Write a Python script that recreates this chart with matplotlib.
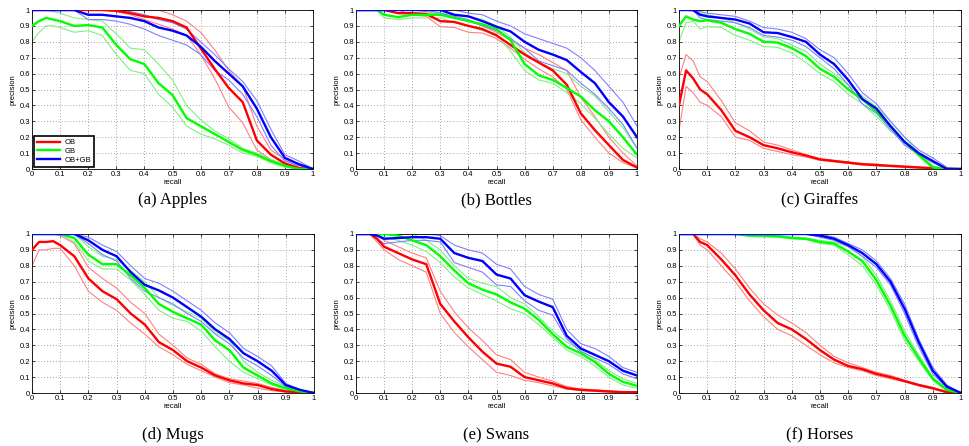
import matplotlib
matplotlib.use("Agg")
import matplotlib.pyplot as plt

# ---------------- data ----------------
RECALL = [0, 0.025, 0.05, 0.075, 0.1, 0.15, 0.2, 0.25, 0.3, 0.35, 0.4, 0.45,
          0.5, 0.55, 0.6, 0.65, 0.7, 0.75, 0.8, 0.85, 0.9, 0.95, 1.0]
SERIES = ["OB", "GB", "OB+GB"]
TITLES = ["(a) Apples", "(b) Bottles", "(c) Giraffes",
          "(d) Mugs", "(e) Swans", "(f) Horses"]
TICKS = [0, 0.1, 0.2, 0.3, 0.4, 0.5, 0.6, 0.7, 0.8, 0.9, 1]
TICK_LABELS = ["0", "0.1", "0.2", "0.3", "0.4", "0.5", "0.6", "0.7", "0.8", "0.9", "1"]

# Apples
apples_ob    = [1,1,1,1,1,1,1,1,0.995,0.98,0.96,0.95,0.93,0.89,0.76,0.63,0.51,0.42,0.18,0.09,0.035,0.005,0]
apples_ob_hi = [1,1,1,1,1,1,1,1,1,1,1,1,0.97,0.93,0.86,0.75,0.62,0.52,0.27,0.12,0.06,0.01,0]
apples_ob_lo = [1,1,1,1,1,1,1,1,0.99,0.97,0.94,0.91,0.88,0.84,0.72,0.57,0.39,0.29,0.12,0.06,0.02,0,0]
apples_gb    = [0.9,0.93,0.95,0.94,0.93,0.9,0.905,0.89,0.78,0.69,0.66,0.54,0.465,0.32,0.27,0.22,0.17,0.12,0.09,0.05,0.02,0,0]
apples_gb_hi = [1,1,1,0.99,0.98,0.95,0.94,0.93,0.85,0.76,0.75,0.66,0.56,0.4,0.31,0.24,0.19,0.13,0.1,0.06,0.03,0,0]
apples_gb_lo = [0.8,0.86,0.9,0.9,0.89,0.86,0.87,0.84,0.72,0.62,0.6,0.47,0.39,0.27,0.22,0.19,0.15,0.1,0.08,0.04,0.01,0,0]
apples_all    = [1,1,1,1,1,1,0.97,0.97,0.96,0.95,0.93,0.89,0.87,0.84,0.77,0.68,0.6,0.52,0.38,0.2,0.07,0.03,0]
apples_all_hi = [1,1,1,1,1,1,1,1,1,0.99,0.97,0.94,0.92,0.88,0.8,0.72,0.63,0.55,0.43,0.25,0.09,0.05,0]
apples_all_lo = [1,1,1,1,1,1,0.94,0.94,0.93,0.91,0.88,0.84,0.81,0.78,0.72,0.62,0.56,0.47,0.33,0.15,0.05,0.02,0]

# Bottles
bottles_ob    = [1,1,1,1,1,0.98,0.98,0.975,0.93,0.925,0.9,0.88,0.84,0.78,0.72,0.67,0.62,0.53,0.35,0.245,0.15,0.057,0.01]
bottles_ob_hi = [1,1,1,1,1,1,1,0.99,0.97,0.95,0.93,0.9,0.86,0.81,0.76,0.72,0.67,0.62,0.45,0.33,0.2,0.1,0.02]
bottles_ob_lo = [1,1,1,1,1,1,0.97,0.96,0.895,0.89,0.86,0.855,0.82,0.76,0.69,0.63,0.58,0.5,0.31,0.2,0.1,0.04,0.005]
bottles_gb    = [1,1,1,1,0.97,0.955,0.97,0.97,0.97,0.95,0.93,0.91,0.88,0.81,0.66,0.59,0.56,0.51,0.455,0.37,0.3,0.2,0.09]
bottles_gb_hi = [1,1,1,1,1,0.98,0.98,0.98,0.98,0.97,0.96,0.94,0.9,0.83,0.73,0.67,0.63,0.6,0.52,0.46,0.36,0.26,0.13]
bottles_gb_lo = [1,1,1,1,0.95,0.94,0.95,0.95,0.95,0.92,0.9,0.87,0.85,0.74,0.62,0.56,0.54,0.48,0.41,0.32,0.22,0.13,0.07]
bottles_all    = [1,1,1,1,1,1,1,1,1,0.97,0.96,0.93,0.895,0.865,0.8,0.75,0.72,0.685,0.61,0.54,0.42,0.33,0.2]
bottles_all_hi = [1,1,1,1,1,1,1,1,1,1,0.98,0.97,0.93,0.9,0.85,0.82,0.79,0.76,0.7,0.62,0.52,0.42,0.27]
bottles_all_lo = [1,1,1,1,1,1,1,1,0.98,0.96,0.94,0.9,0.87,0.82,0.76,0.68,0.65,0.62,0.54,0.47,0.38,0.28,0.13]

# Giraffes
giraffes_ob    = [0.4,0.62,0.57,0.5,0.47,0.37,0.24,0.2,0.15,0.13,0.105,0.085,0.06,0.05,0.04,0.03,0.025,0.02,0.015,0.01,0.005,0,0]
giraffes_ob_hi = [0.57,0.72,0.68,0.58,0.55,0.43,0.29,0.24,0.17,0.15,0.12,0.09,0.065,0.055,0.045,0.035,0.03,0.02,0.015,0.01,0.005,0,0]
giraffes_ob_lo = [0.24,0.52,0.48,0.42,0.4,0.33,0.2,0.18,0.13,0.11,0.09,0.075,0.055,0.045,0.035,0.025,0.02,0.015,0.01,0.005,0.002,0,0]
giraffes_gb    = [0.9,0.96,0.94,0.93,0.935,0.92,0.88,0.85,0.8,0.795,0.76,0.71,0.63,0.58,0.5,0.44,0.36,0.27,0.17,0.09,0.01,0,0]
giraffes_gb_hi = [1,1,0.99,0.98,0.97,0.95,0.92,0.88,0.83,0.82,0.78,0.74,0.66,0.6,0.53,0.46,0.39,0.3,0.2,0.1,0.02,0,0]
giraffes_gb_lo = [0.8,0.92,0.93,0.88,0.895,0.89,0.84,0.81,0.77,0.765,0.73,0.67,0.6,0.55,0.47,0.41,0.33,0.24,0.17,0.08,0.005,0,0]
giraffes_all    = [1,1,1,0.97,0.96,0.95,0.94,0.915,0.86,0.855,0.83,0.8,0.72,0.66,0.56,0.44,0.38,0.27,0.17,0.1,0.05,0,0]
giraffes_all_hi = [1,1,1,0.99,0.98,0.97,0.96,0.93,0.89,0.88,0.86,0.82,0.75,0.7,0.6,0.48,0.41,0.3,0.2,0.12,0.07,0.01,0]
giraffes_all_lo = [1,1,1,0.95,0.94,0.93,0.92,0.89,0.84,0.83,0.81,0.77,0.7,0.63,0.53,0.41,0.35,0.25,0.15,0.09,0.04,0,0]

# Mugs
mugs_ob    = [0.9,0.95,0.95,0.955,0.93,0.86,0.72,0.64,0.59,0.5,0.43,0.32,0.27,0.2,0.16,0.11,0.08,0.06,0.05,0.025,0.01,0.005,0]
mugs_ob_hi = [1,1,1,1,0.99,0.94,0.79,0.72,0.66,0.57,0.5,0.37,0.3,0.22,0.18,0.12,0.09,0.075,0.06,0.035,0.015,0.005,0]
mugs_ob_lo = [0.8,0.9,0.9,0.91,0.91,0.8,0.64,0.57,0.52,0.44,0.37,0.29,0.24,0.18,0.14,0.1,0.065,0.05,0.03,0.015,0.005,0,0]
mugs_gb    = [1,1,1,1,1,0.975,0.87,0.81,0.81,0.74,0.66,0.56,0.51,0.47,0.43,0.33,0.27,0.16,0.11,0.06,0.03,0.01,0]
mugs_gb_hi = [1,1,1,1,1,1,0.92,0.86,0.84,0.77,0.7,0.6,0.55,0.51,0.47,0.38,0.33,0.2,0.13,0.08,0.04,0.01,0]
mugs_gb_lo = [1,1,1,1,1,0.95,0.83,0.78,0.78,0.71,0.62,0.52,0.47,0.45,0.39,0.29,0.2,0.13,0.09,0.05,0.02,0.005,0]
mugs_all    = [1,1,1,1,1,1,0.96,0.9,0.86,0.76,0.68,0.645,0.6,0.54,0.48,0.4,0.34,0.25,0.2,0.14,0.05,0.02,0]
mugs_all_hi = [1,1,1,1,1,1,0.98,0.93,0.89,0.8,0.72,0.69,0.64,0.58,0.52,0.44,0.38,0.28,0.23,0.17,0.06,0.02,0]
mugs_all_lo = [1,1,1,1,1,1,0.94,0.87,0.83,0.72,0.64,0.6,0.56,0.5,0.45,0.37,0.31,0.22,0.17,0.11,0.04,0.01,0]

# Swans
swans_ob    = [1,1,1,0.97,0.92,0.88,0.84,0.81,0.56,0.45,0.35,0.26,0.185,0.165,0.1,0.08,0.06,0.03,0.02,0.015,0.01,0.005,0.005]
swans_ob_hi = [1,1,1,1,0.96,0.92,0.88,0.85,0.64,0.51,0.41,0.33,0.24,0.21,0.13,0.1,0.075,0.04,0.025,0.02,0.012,0.008,0.006]
swans_ob_lo = [1,1,1,0.95,0.9,0.84,0.8,0.76,0.5,0.38,0.29,0.21,0.13,0.11,0.08,0.065,0.045,0.025,0.015,0.01,0.005,0.003,0.002]
swans_gb    = [1,1,1,1,1,0.99,0.96,0.93,0.86,0.77,0.69,0.65,0.62,0.57,0.53,0.46,0.37,0.29,0.25,0.195,0.12,0.07,0.045]
swans_gb_hi = [1,1,1,1,1,1,1,0.96,0.9,0.8,0.72,0.69,0.67,0.6,0.56,0.48,0.39,0.32,0.27,0.21,0.14,0.09,0.06]
swans_gb_lo = [1,1,1,1,0.98,0.96,0.93,0.89,0.82,0.73,0.66,0.62,0.58,0.53,0.5,0.43,0.35,0.27,0.23,0.17,0.1,0.05,0.03]
swans_all    = [1,1,1,0.99,0.97,0.975,0.98,0.98,0.97,0.88,0.85,0.83,0.745,0.72,0.615,0.575,0.54,0.36,0.28,0.24,0.2,0.14,0.11]
swans_all_hi = [1,1,1,1,1,1,1,1,0.99,0.93,0.9,0.88,0.81,0.78,0.67,0.62,0.59,0.4,0.31,0.28,0.23,0.16,0.13]
swans_all_lo = [1,1,1,0.97,0.94,0.95,0.96,0.96,0.95,0.82,0.79,0.76,0.68,0.67,0.58,0.52,0.49,0.34,0.26,0.22,0.18,0.12,0.09]

# Horses
horses_ob    = [1,1,1,0.95,0.93,0.84,0.74,0.62,0.52,0.44,0.4,0.34,0.27,0.21,0.17,0.15,0.12,0.1,0.075,0.05,0.03,0.005,0]
horses_ob_hi = [1,1,1,0.97,0.95,0.88,0.78,0.66,0.56,0.49,0.44,0.38,0.3,0.23,0.19,0.16,0.13,0.11,0.08,0.055,0.035,0.008,0]
horses_ob_lo = [1,1,1,0.93,0.9,0.8,0.7,0.58,0.48,0.4,0.36,0.3,0.24,0.19,0.16,0.14,0.11,0.09,0.07,0.045,0.025,0.003,0]
horses_gb    = [1,1,1,1,1,1,1,0.99,0.99,0.985,0.975,0.97,0.95,0.94,0.89,0.83,0.71,0.55,0.36,0.22,0.09,0.02,0]
horses_gb_hi = [1,1,1,1,1,1,1,1,0.995,0.99,0.98,0.975,0.96,0.95,0.92,0.86,0.74,0.58,0.39,0.24,0.1,0.02,0]
horses_gb_lo = [1,1,1,1,1,1,1,0.985,0.98,0.98,0.97,0.965,0.94,0.93,0.87,0.8,0.68,0.52,0.33,0.2,0.08,0.01,0]
horses_all    = [1,1,1,1,1,1,1,1,1,1,1,1,0.99,0.97,0.93,0.88,0.81,0.7,0.53,0.32,0.14,0.04,0]
horses_all_hi = [1,1,1,1,1,1,1,1,1,1,1,1,1,0.98,0.94,0.9,0.83,0.72,0.56,0.34,0.16,0.05,0]
horses_all_lo = [1,1,1,1,1,1,1,1,1,1,1,1,0.98,0.96,0.92,0.86,0.79,0.68,0.5,0.29,0.12,0.03,0]

PANELS = [
    [(apples_ob, apples_ob_hi, apples_ob_lo), (apples_gb, apples_gb_hi, apples_gb_lo), (apples_all, apples_all_hi, apples_all_lo)],
    [(bottles_ob, bottles_ob_hi, bottles_ob_lo), (bottles_gb, bottles_gb_hi, bottles_gb_lo), (bottles_all, bottles_all_hi, bottles_all_lo)],
    [(giraffes_ob, giraffes_ob_hi, giraffes_ob_lo), (giraffes_gb, giraffes_gb_hi, giraffes_gb_lo), (giraffes_all, giraffes_all_hi, giraffes_all_lo)],
    [(mugs_ob, mugs_ob_hi, mugs_ob_lo), (mugs_gb, mugs_gb_hi, mugs_gb_lo), (mugs_all, mugs_all_hi, mugs_all_lo)],
    [(swans_ob, swans_ob_hi, swans_ob_lo), (swans_gb, swans_gb_hi, swans_gb_lo), (swans_all, swans_all_hi, swans_all_lo)],
    [(horses_ob, horses_ob_hi, horses_ob_lo), (horses_gb, horses_gb_hi, horses_gb_lo), (horses_all, horses_all_hi, horses_all_lo)],
]

# ---------------- style ----------------
MAIN_COLORS = ["#FF0000", "#00FF00", "#0000FF"]
LIGHT_COLORS = ["#FF8080", "#80F080", "#8080FF"]

plt.rcParams["font.family"] = ["Liberation Sans", "DejaVu Sans"]

W, H = 969, 446
fig = plt.figure(figsize=(W / 100, H / 100), dpi=100)

# axes pixel boxes: (left, top, right, bottom)
boxes = [(32, 10, 313, 169), (356, 10, 637, 169), (679, 10, 961, 169),
         (32, 234, 314, 393), (356, 234, 637, 393), (679, 234, 961, 393)]
caption_y = [200, 200, 200, 435, 435, 435]

for i, (l, t, r, b) in enumerate(boxes):
    ax = fig.add_axes([l / W, 1 - b / H, (r - l) / W, (b - t) / H])
    series = PANELS[i]
    for k, (m, hi, lo) in enumerate(series):
        ax.plot(RECALL, hi, color=LIGHT_COLORS[k], lw=0.8, zorder=2)
        ax.plot(RECALL, lo, color=LIGHT_COLORS[k], lw=0.8, zorder=2)
    handles = []
    for k, (m, hi, lo) in enumerate(series):
        h, = ax.plot(RECALL, m, color=MAIN_COLORS[k], lw=1.7, zorder=3, label=SERIES[k])
        handles.append(h)
    ax.set_xlim(0, 1)
    ax.set_ylim(0, 1)
    ax.set_xticks(TICKS)
    ax.set_yticks(TICKS)
    ax.set_xticklabels(TICK_LABELS, fontsize=5.5)
    ax.set_yticklabels(TICK_LABELS, fontsize=5.5)
    ax.tick_params(direction="in", length=2, width=0.5, top=True, right=True, pad=1.5)
    ax.grid(True, linestyle=(0, (1, 2.5)), color="#888888", linewidth=0.6)
    for s in ax.spines.values():
        s.set_linewidth(0.6)
    ax.set_xlabel("recall", fontsize=5.5, labelpad=0.5)
    ax.set_ylabel("precision", fontsize=5.5, labelpad=2)
    fig.text(((l + r) / 2) / W, 1 - caption_y[i] / H, TITLES[i],
             family=["Liberation Serif", "DejaVu Serif"], fontsize=12,
             ha="center", va="center")
    if i == 0:
        leg = ax.legend(handles=handles, loc="lower left", fontsize=5.5,
                        fancybox=False, framealpha=1, edgecolor="black",
                        handlelength=3.0, borderpad=0.35, labelspacing=0.2,
                        handletextpad=0.6, borderaxespad=0.3)
        leg.get_frame().set_linewidth(1.2)

fig.savefig("out.png", dpi=100)
